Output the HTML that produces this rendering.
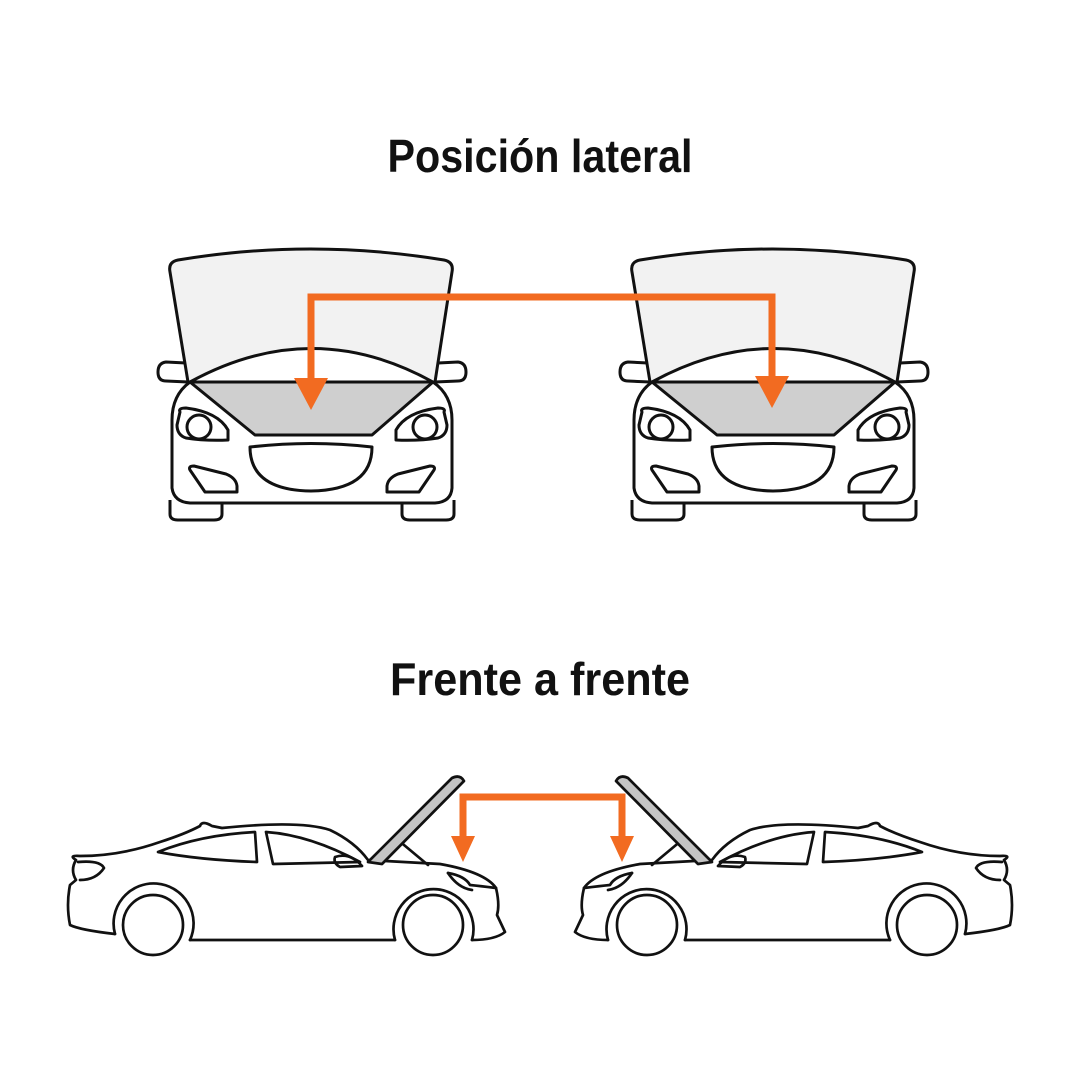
<!DOCTYPE html>
<html><head><meta charset="utf-8"><style>html,body{margin:0;padding:0;background:#fff}svg{display:block}</style></head>
<body>
<svg width="1080" height="1080" viewBox="0 0 1080 1080" xmlns="http://www.w3.org/2000/svg">
<rect width="1080" height="1080" fill="#fff"/>
<text x="540" y="172" text-anchor="middle" font-family="Liberation Sans, sans-serif" font-weight="bold" font-size="46" textLength="305" lengthAdjust="spacingAndGlyphs" fill="#111">Posición lateral</text>
<text x="540" y="695" text-anchor="middle" font-family="Liberation Sans, sans-serif" font-weight="bold" font-size="46" textLength="300" lengthAdjust="spacingAndGlyphs" fill="#111">Frente a frente</text>

<defs>
<g id="front" fill="none" stroke="#111" stroke-width="3" stroke-linejoin="round">
  <path d="M188,382 L170,272 Q168,262 178,260 Q310,238 444,260 Q454,262 452,272 L435,382 Z" fill="#f2f2f2"/>
  <path d="M190,382 Q312,315 433,382" fill="#fff"/>
  <path d="M190,382 L433,382 L372,435 L255,435 Z" fill="#cfcfcf"/>
  <path d="M190,382 Q172,395 172,420 L172,488 Q174,502 190,503 L435,503 Q451,502 452,488 L452,420 Q452,395 433,382" fill="none"/>
  <path d="M186,363 L166,362 Q158,363 158,372 Q158,381 166,381 L188,382" />
  <path d="M438,363 L458,362 Q466,363 466,372 Q466,381 458,381 L435,382" />
  <path d="M170,500 L170,514 Q170,520 178,520 L214,520 Q222,520 222,514 L222,503"/>
  <path d="M454,500 L454,514 Q454,520 446,520 L410,520 Q402,520 402,514 L402,503"/>
  <path d="M180,412 Q178,408 186,408 Q218,412 228,430 L228,440 Q205,441 186,438 Q177,435 177,425 Z"/>
  <circle cx="199" cy="427" r="12"/>
  <path d="M444,412 Q446,408 438,408 Q406,412 396,430 L396,440 Q419,441 438,438 Q447,435 447,425 Z"/>
  <circle cx="425" cy="427" r="12"/>
  <path d="M250,447 Q311,440 372,447 Q372,490 311,491 Q250,490 250,447 Z"/>
  <path d="M190,470 Q188,466 194,466 L226,474 Q236,478 237,486 L237,492 L205,492 Z"/>
  <path d="M434,470 Q436,466 430,466 L398,474 Q388,478 387,486 L387,492 L419,492 Z"/>
</g>
<g id="side" fill="none" stroke="#111" stroke-width="2.7" stroke-linejoin="round" stroke-linecap="round">
  <path d="M200,826 Q202,820 212,826 L222,828 Q300,820 330,830 Q355,842 368,860 L440,864 Q485,872 496,888 Q500,905 497,915 L505,932 Q495,940 472,940 M395,940 L190,940 M115,934 Q80,930 70,925 Q66,905 70,885 L76,880 Q70,870 76,860 Q68,855 80,856 Q120,856 160,842 Q185,834 200,826"/>
  <path d="M115,934 A40,40 0 1 1 190,940" />
  <circle cx="153" cy="925" r="30"/>
  <path d="M395,940 A40,40 0 1 1 472,940"/>
  <circle cx="433" cy="925" r="30"/>
  <path d="M78,862 Q100,860 104,868 Q96,880 80,880"/>
  <path d="M158,852 Q200,835 255,832 L257,862 Q200,860 158,852 Z"/>
  <path d="M266,832 Q310,835 360,862 L273,864 Z"/>
  <path d="M335,857 Q350,852 362,866 L340,867 Q333,863 335,857 Z"/>
  <path d="M448,873 Q465,876 470,885 Q480,886 496,888"/>
  <path d="M448,873 Q458,888 472,890"/>
  <path d="M398,840 L428,865"/>
  <path d="M368,862 L452,778 Q460,774 464,781 L382,864 Z" fill="#c4c4c4"/>
</g>
</defs>

<use href="#front"/>
<use href="#front" transform="translate(462,0)"/>
<use href="#side"/>
<use href="#side" transform="translate(1080,0) scale(-1,1)"/>

<g stroke="#f26b21" stroke-width="7" fill="none">
  <path d="M311,382 L311,297 L772,297 L772,380"/>
  <path d="M463,838 L463,797 L622,797 L622,838"/>
</g>
<g fill="#f26b21">
  <polygon points="294,378 328,378 311,410"/>
  <polygon points="755,376 789,376 772,408"/>
  <polygon points="451,836 475,836 463,862"/>
  <polygon points="610,836 634,836 622,862"/>
</g>
</svg>
</body></html>
